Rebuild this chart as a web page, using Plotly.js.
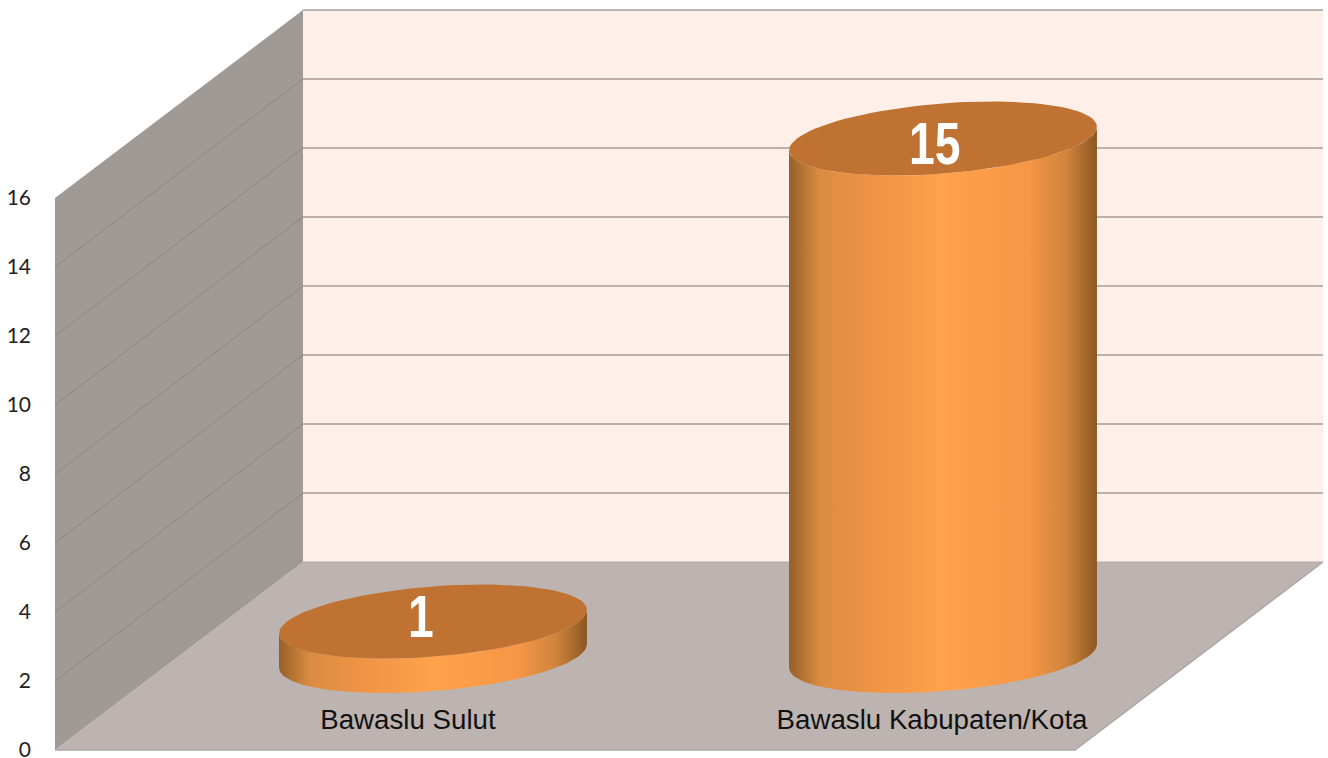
<!DOCTYPE html>
<html>
<head>
<meta charset="utf-8">
<script src="https://cdn.plot.ly/plotly-3.0.1.min.js"></script>
<style>html,body{margin:0;padding:0;background:#fff;overflow:hidden}#chart{width:1328px;height:758px}</style>
</head>
<body>
<div id="chart"></div>
<script>
// ---- data ----
const categories = ['Bawaslu Sulut', 'Bawaslu Kabupaten/Kota'];
const values = [1, 15];
const tickValues = [0, 2, 4, 6, 8, 10, 12, 14, 16];
const labelOffsets = [-0.0511, -0.0235];      // category label shift from its slot (in slots)
const valueLabelShiftX = [-0.026, -0.018];    // value label shift (in slots)
const valueLabelShiftY = [0, -0.29];          // value label shift (in value units)

// ---- oblique 3D frame (axis units) ----
const W = 1328, H = 758, L = 32;
const unitX = 510, unitY = 34.5, originX = 55, originY = 750;
const depthX = 248 / unitX, depthY = 188 / unitY;
const axisMax = tickValues[tickValues.length - 1];
const slots = categories.length;
const proj = (x, d, v) => [x + d * depthX, v + d * depthY];
const poly = pts => ({ x: pts.map(p => p[0]), y: pts.map(p => p[1]) });
const base = { type: 'scatter', hoverinfo: 'skip', showlegend: false };

function face(pts, color) {
  const closed = pts.concat([pts[0]]);
  return { ...base, ...poly(closed), mode: 'lines', line: { width: 0 }, fill: 'toself', fillcolor: color };
}

const traces = [];
// walls and floor
traces.push(face([proj(0,1,0), proj(slots,1,0), proj(slots,1,axisMax), proj(0,1,axisMax)], '#feefe8'));
traces.push(face([proj(0,0,0), proj(slots,0,0), proj(slots,1,0), proj(0,1,0)], '#bdb4b1'));
traces.push(face([proj(0,0,0), proj(0,1,0), proj(0,1,axisMax), proj(0,0,axisMax)], '#9f9a96'));

// gridlines
const gridBack = { x: [], y: [] }, gridSide = { x: [], y: [] };
tickValues.forEach(v => {
  if (v > 0) {
    [proj(0,1,v), proj(slots,1,v)].forEach(p => { gridBack.x.push(p[0]); gridBack.y.push(p[1]); });
    gridBack.x.push(null); gridBack.y.push(null);
    if (v < axisMax) {
      [proj(0,0,v), proj(0,1,v)].forEach(p => { gridSide.x.push(p[0]); gridSide.y.push(p[1]); });
      gridSide.x.push(null); gridSide.y.push(null);
    }
  }
});
traces.push({ ...base, ...gridBack, mode: 'lines', line: { color: '#a49d98', width: 1.4 } });
traces.push({ ...base, ...gridSide, mode: 'lines', line: { color: '#8b8681', width: 1 } });
// frame edges
traces.push({ ...base, ...poly([proj(0,0,0), proj(slots,0,0), proj(slots,1,0)]), mode: 'lines', line: { color: '#a9a6a4', width: 1.4 } });
traces.push({ ...base, ...poly([proj(0,1,0), proj(slots,1,0)]), mode: 'lines', line: { color: '#b3aba7', width: 1 } });

// cylinders
const rx = 146 / unitX, rd = 0.197, centerShift = -0.002;
const bendAngle = Math.atan2(rd * depthX, rx);
const STEPS = 90;
const ring = (cx, v, t) => proj(cx + rx * Math.cos(t), 0.5 + rd * Math.sin(t), v);
const bodyScale = [[0,'#94602a'],[0.03,'#ab6d30'],[0.1,'#da8c42'],[0.3,'#f29545'],[0.5,'#ffa24b'],[0.78,'#f69646'],[0.9,'#d0843c'],[0.97,'#a1652b'],[1,'#8a5622']];

categories.forEach((c, i) => {
  const cx = i + 0.5 + centerShift, v = values[i];
  const front = [], top = [];
  for (let k = 0; k <= STEPS; k++) {
    front.push(bendAngle + Math.PI + Math.PI * k / STEPS);
    top.push(2 * Math.PI * k / STEPS);
  }
  const outline = front.map(t => ring(cx, 0, t)).concat(front.slice().reverse().map(t => ring(cx, v, t)));
  outline.push(outline[0]);
  traces.push({ ...base, ...poly(outline), mode: 'lines', line: { width: 0 }, fill: 'toself',
    fillcolor: '#f29545', fillgradient: { type: 'horizontal', colorscale: bodyScale } });
  traces.push(face(top.map(t => ring(cx, v, t)), '#bf7232'));
});

// value labels on cylinder tops
traces.push({ ...base, mode: 'text', name: 'values',
  x: categories.map((c, i) => proj(i + 0.5, 0.5, values[i])[0] + valueLabelShiftX[i]),
  y: categories.map((c, i) => proj(i + 0.5, 0.5, values[i])[1] + valueLabelShiftY[i]),
  text: values.map(String), textposition: 'middle center',
  textfont: { family: '"Liberation Sans",Arial,sans-serif', size: 60, color: '#ffffff', weight: 700 } });

// category labels on the floor
traces.push({ ...base, mode: 'text',
  x: categories.map((c, i) => i + 0.5 + proj(0, 0.5, 0)[0] + labelOffsets[i]),
  y: categories.map(() => 0.81),
  text: categories, textposition: 'middle center',
  textfont: { family: '"Liberation Sans",Arial,sans-serif', size: 27.7, color: '#111111' } });

const layout = {
  width: W, height: H,
  margin: { l: L, r: 0, t: 0, b: 0, pad: 0 },
  paper_bgcolor: '#ffffff', plot_bgcolor: '#ffffff',
  showlegend: false,
  xaxis: { range: [(L - originX) / unitX, (W - originX) / unitX], visible: false, fixedrange: true },
  yaxis: {
    range: [(originY - H) / unitY, originY / unitY],
    tickmode: 'array', tickvals: tickValues, ticktext: tickValues.map(String),
    tickfont: { family: 'Lato, sans-serif', size: 21, color: '#222222' },
    ticklabeloverflow: 'allow',
    showgrid: false, zeroline: false, showline: false, ticks: '', fixedrange: true
  }
};
Plotly.newPlot('chart', traces, layout, { displayModeBar: false, staticPlot: true }).then(gd => {
  // the reference's value figures are condensed: narrow the real text horizontally
  const layers = gd.querySelectorAll('.scatterlayer .trace');
  layers.forEach(tr => {
    tr.querySelectorAll('.textpoint text').forEach(t => {
      if (values.map(String).includes(t.textContent)) {
        t.setAttribute('textLength', (t.getComputedTextLength() * 0.77).toFixed(1));
        t.setAttribute('lengthAdjust', 'spacingAndGlyphs');
      }
    });
  });
});
</script>
</body>
</html>
